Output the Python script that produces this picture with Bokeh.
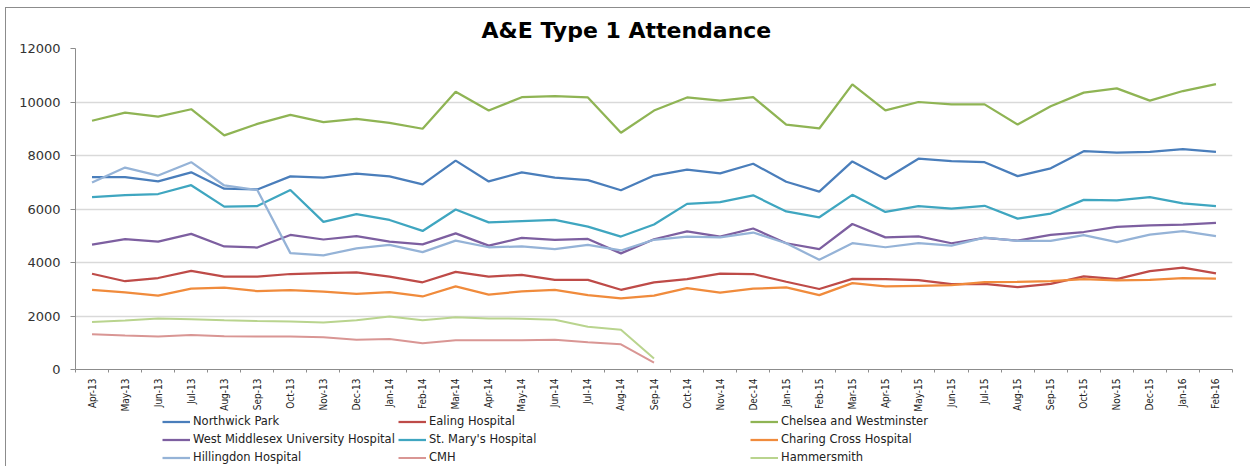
from bokeh.plotting import figure
from bokeh.layouts import column
from bokeh.models import (Legend, LegendItem, FixedTicker, NumeralTickFormatter, Range1d)
from bokeh.embed import file_html
from bokeh.resources import INLINE

months = ["Apr-13", "May-13", "Jun-13", "Jul-13", "Aug-13", "Sep-13", "Oct-13", "Nov-13",
          "Dec-13", "Jan-14", "Feb-14", "Mar-14", "Apr-14", "May-14", "Jun-14", "Jul-14",
          "Aug-14", "Sep-14", "Oct-14", "Nov-14", "Dec-14", "Jan-15", "Feb-15", "Mar-15",
          "Apr-15", "May-15", "Jun-15", "Jul-15", "Aug-15", "Sep-15", "Oct-15", "Nov-15",
          "Dec-15", "Jan-16", "Feb-16"]

northwick_park = [7190, 7190, 7030, 7370, 6760, 6730, 7220, 7170, 7320, 7220, 6920, 7810,
                  7030, 7370, 7170, 7080, 6700, 7250, 7470, 7330, 7690, 7020, 6650, 7780,
                  7120, 7880, 7790, 7750, 7230, 7520, 8160, 8110, 8140, 8240, 8140]
ealing = [3580, 3300, 3420, 3690, 3470, 3470, 3570, 3600, 3630, 3470, 3260, 3650,
          3470, 3540, 3350, 3350, 2980, 3260, 3380, 3580, 3570, 3280, 3010, 3390,
          3380, 3340, 3190, 3200, 3080, 3200, 3480, 3380, 3680, 3810, 3590]
chelsea = [9300, 9600, 9450, 9730, 8750, 9180, 9520, 9250, 9370, 9220, 9000, 10380,
           9680, 10180, 10220, 10170, 8850, 9680, 10170, 10050, 10180, 9150, 9010, 10660,
           9690, 10000, 9910, 9910, 9160, 9840, 10350, 10510, 10050, 10410, 10670]
west_middlesex = [4670, 4870, 4780, 5070, 4600, 4560, 5030, 4860, 4990, 4780, 4680, 5090,
                  4630, 4920, 4850, 4880, 4340, 4870, 5160, 4970, 5270, 4720, 4500, 5440,
                  4940, 4980, 4720, 4920, 4820, 5030, 5140, 5330, 5390, 5420, 5480]
st_marys = [6440, 6520, 6560, 6890, 6090, 6110, 6710, 5520, 5810, 5590, 5180, 5980,
            5500, 5550, 5590, 5340, 4970, 5420, 6190, 6260, 6510, 5910, 5690, 6530,
            5890, 6110, 6010, 6120, 5640, 5830, 6340, 6320, 6440, 6210, 6110]
charing_cross = [2980, 2880, 2760, 3020, 3060, 2930, 2970, 2910, 2830, 2890, 2730, 3110,
                 2800, 2920, 2980, 2780, 2660, 2760, 3040, 2870, 3020, 3070, 2780, 3230,
                 3110, 3130, 3150, 3270, 3280, 3300, 3380, 3330, 3350, 3420, 3400]
hillingdon = [6990, 7550, 7250, 7750, 6880, 6710, 4350, 4270, 4530, 4660, 4390, 4820,
              4570, 4600, 4500, 4660, 4450, 4850, 4970, 4940, 5120, 4720, 4100, 4720,
              4570, 4720, 4630, 4930, 4810, 4810, 5020, 4760, 5040, 5170, 4990]
cmh = [1320, 1270, 1230, 1290, 1240, 1230, 1230, 1210, 1110, 1140, 980, 1090,
       1090, 1090, 1110, 1020, 940, 260]
hammersmith = [1780, 1830, 1910, 1880, 1840, 1810, 1790, 1760, 1840, 1980, 1840, 1950,
               1910, 1900, 1860, 1600, 1490, 410]

series = [
    ("Northwick Park", northwick_park, "#4A7EBB", 2.25),
    ("Ealing Hospital", ealing, "#BE4B48", 2.25),
    ("Chelsea and Westminster", chelsea, "#8FB454", 2.25),
    ("West Middlesex University Hospital", west_middlesex, "#7D5FA0", 2.25),
    ("St. Mary's Hospital", st_marys, "#3FA6C0", 2.25),
    ("Charing Cross Hospital", charing_cross, "#F08B3C", 2.25),
    ("Hillingdon Hospital", hillingdon, "#95B3D7", 2.25),
    ("CMH", cmh, "#D99694", 2.0),
    ("Hammersmith", hammersmith, "#B9D48E", 2.0),
]

y_ticks = [0, 2000, 4000, 6000, 8000, 10000, 12000]

# the whole chart sits in a box whose grey frame starts at (5, 7)
p = figure(width=1244, height=406, output_backend="svg", toolbar_location=None,
           x_range=Range1d(-0.5, len(months) - 0.5), y_range=Range1d(0, 12000),
           min_border_left=69, min_border_right=18, min_border_top=40, min_border_bottom=44,
           title="A&E Type 1 Attendance")
p.outline_line_color = None
p.background_fill_color = "white"
p.border_fill_color = "white"

p.title.align = "left"
p.title.offset = 406
p.title.text_font = "DejaVu Sans"
p.title.text_font_size = "22px"
p.title.text_font_style = "bold"
p.title.text_color = "#000000"
p.title.standoff = 11

xs = list(range(len(months)))
for name, vals, color, lw in series:
    p.line(xs[:len(vals)], vals, line_color=color, line_width=lw)

# x axis
p.xaxis.ticker = FixedTicker(ticks=xs, minor_ticks=[i - 0.5 for i in range(len(months) + 1)])
p.xaxis.major_label_overrides = {i: m for i, m in enumerate(months)}
p.xaxis.major_label_orientation = 1.5708
p.xaxis.major_tick_line_color = None
p.xaxis.minor_tick_line_color = "#8c8c8c"
p.xaxis.minor_tick_out = 3
p.xaxis.minor_tick_in = 0
p.xaxis.axis_line_color = "#8c8c8c"
p.xaxis.major_label_text_font = "DejaVu Sans Condensed"
p.xaxis.major_label_text_font_size = "10px"
p.xaxis.major_label_text_color = "#222222"
p.xaxis.major_label_standoff = 3

# y axis
p.yaxis.ticker = FixedTicker(ticks=y_ticks, minor_ticks=[])
p.yaxis.formatter = NumeralTickFormatter(format="0")
p.yaxis.axis_line_color = "#8c8c8c"
p.yaxis.major_tick_line_color = "#8c8c8c"
p.yaxis.major_tick_out = 5
p.yaxis.major_tick_in = 0
p.yaxis.minor_tick_line_color = None
p.yaxis.major_label_text_font = "DejaVu Sans"
p.yaxis.major_label_text_font_size = "13px"
p.yaxis.major_label_text_color = "#333333"
p.yaxis.major_label_standoff = 10

p.xgrid.grid_line_color = None
p.ygrid.ticker = FixedTicker(ticks=y_ticks)
p.ygrid.grid_line_color = "#d9d9d9"
p.ygrid.grid_line_width = 1.5

# legend strip below the chart (its frame is aligned with the chart's frame);
# the same series are drawn there but fall outside its 0..1 range, so only the
# legend entries show
lg = figure(width=1244, height=52, output_backend="svg", toolbar_location=None,
            x_range=Range1d(-0.5, len(months) - 0.5), y_range=Range1d(0, 1),
            min_border_left=69, min_border_right=18, min_border_top=0, min_border_bottom=0,
            x_axis_type=None, y_axis_type=None)
lg.outline_line_color = None
lg.grid.grid_line_color = None
lg_renderers = []
for name, vals, color, lw in series:
    lg_renderers.append(lg.line(xs[:len(vals)], vals, line_color=color, line_width=lw))

col_x = [87, 323, 675]
for c in range(3):
    items = [LegendItem(label=series[r * 3 + c][0], renderers=[lg_renderers[r * 3 + c]])
             for r in range(3)]
    leg = Legend(items=items, location=(col_x[c], 2), orientation="vertical",
                 label_text_font="DejaVu Sans", label_text_font_size="11.5px",
                 label_text_color="#222222", glyph_width=28, glyph_height=13,
                 label_height=13, spacing=4, label_standoff=3, padding=0, margin=0,
                 border_line_color=None, background_fill_alpha=0)
    lg.add_layout(leg, "center")

layout = column(p, lg, spacing=0,
                styles={"border-left": "1px solid #8c8c8c", "border-top": "1px solid #8c8c8c",
                        "margin-left": "5px", "margin-top": "7px"})
open("out.html", "w").write(file_html(layout, INLINE))
